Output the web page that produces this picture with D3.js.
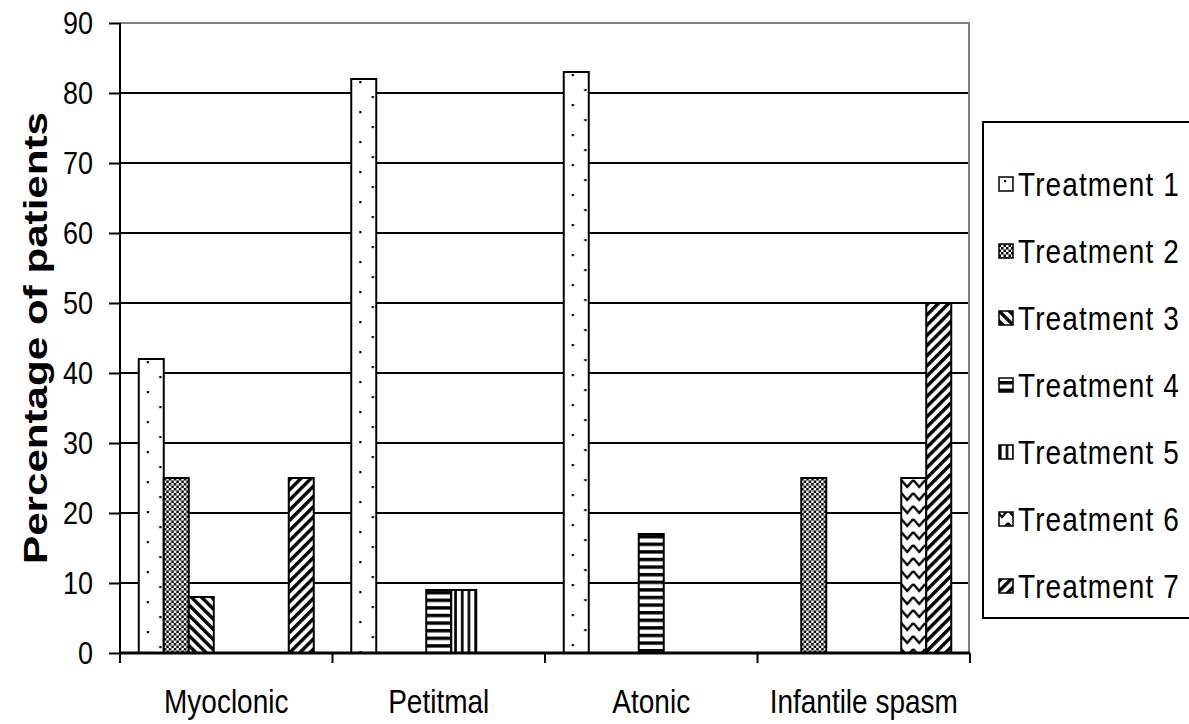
<!DOCTYPE html>
<html>
<head>
<meta charset="utf-8">
<script src="https://cdn.jsdelivr.net/npm/d3@7"></script>
<style>
  html, body { margin: 0; padding: 0; background: #fff; }
  svg { display: block; font-family: "Liberation Sans", Arial, sans-serif; }
</style>
</head>
<body>
<svg id="chart" width="1189" height="724"></svg>
<script>
// Seizure types along the x axis
const categories = ["Myoclonic", "Petitmal", "Atonic", "Infantile spasm"];
// Treatment series names
const seriesNames = ["Treatment 1", "Treatment 2", "Treatment 3", "Treatment 4",
                     "Treatment 5", "Treatment 6", "Treatment 7"];
// Percentage of patients per treatment, one value per seizure type
const treatment1 = [42, 82, 83, 0];
const treatment2 = [25, 0, 0, 25];
const treatment3 = [8, 0, 0, 0];
const treatment4 = [0, 9, 17, 0];
const treatment5 = [0, 9, 0, 0];
const treatment6 = [0, 0, 0, 25];
const treatment7 = [25, 0, 0, 50];
// Y axis tick labels
const yTicks = [0, 10, 20, 30, 40, 50, 60, 70, 80, 90];

const seriesValues = [treatment1, treatment2, treatment3, treatment4,
                      treatment5, treatment6, treatment7];

const svg = d3.select("#chart");
const defs = svg.append("defs");

const plot = { left: 120, right: 970, top: 23, bottom: 653 };
const textStretch = 1.18;

const x0 = d3.scaleBand().domain(categories).range([plot.left, plot.right]).padding(0);
const x1 = d3.scaleBand().domain(seriesNames).range([0, x0.bandwidth()])
  .paddingInner(0).paddingOuter(0.75);
const y = d3.scaleLinear().domain([0, 90]).range([plot.bottom, plot.top]);

// Fill pattern for each treatment, with the tile origin placed at (ox, oy)
function makePattern(id, si, ox, oy) {
  const p = defs.append("pattern").attr("id", id)
    .attr("patternUnits", "userSpaceOnUse").attr("x", ox).attr("y", oy);
  const bg = (w, h) => p.append("rect").attr("width", w).attr("height", h).attr("fill", "#fff");
  if (si === 0) {            // sparse dots
    p.attr("width", 25).attr("height", 30);
    bg(25, 30);
    p.append("rect").attr("x", 8).attr("y", 2).attr("width", 2.2).attr("height", 2.2).attr("fill", "#000");
    p.append("rect").attr("x", 20.5).attr("y", 17).attr("width", 2.2).attr("height", 2.2).attr("fill", "#000");
  } else if (si === 1) {     // fine checker
    p.attr("width", 5).attr("height", 5);
    bg(5, 5);
    p.append("rect").attr("width", 2.5).attr("height", 2.5).attr("fill", "#000");
    p.append("rect").attr("x", 2.5).attr("y", 2.5).attr("width", 2.5).attr("height", 2.5).attr("fill", "#000");
  } else if (si === 2 || si === 6) {   // wide diagonals
    p.attr("width", 7.2).attr("height", 10)
      .attr("patternTransform", `translate(${ox},${oy}) rotate(${si === 2 ? -45 : 45})`)
      .attr("x", 0).attr("y", 0);
    bg(7.2, 10);
    p.append("rect").attr("width", 3.4).attr("height", 10).attr("fill", "#000");
  } else if (si === 3) {     // horizontal stripes
    p.attr("width", 10).attr("height", 7.6);
    bg(10, 7.6);
    p.append("rect").attr("y", 1).attr("width", 10).attr("height", 3.4).attr("fill", "#000");
  } else if (si === 4) {     // vertical stripes
    p.attr("width", 6.7).attr("height", 10);
    bg(6.7, 10);
    p.append("rect").attr("x", 3).attr("width", 2.6).attr("height", 10).attr("fill", "#000");
  } else {                   // zigzag
    p.attr("width", 12).attr("height", 13);
    bg(12, 13);
    p.append("path").attr("d", "M0,2 L6,9 L12,2").attr("fill", "none")
      .attr("stroke", "#000").attr("stroke-width", 2.4);
  }
  return `url(#${id})`;
}

// Horizontal gridlines
svg.append("g").selectAll("line").data(yTicks.filter(t => t > 0)).join("line")
  .attr("x1", plot.left).attr("x2", plot.right)
  .attr("y1", d => y(d)).attr("y2", d => y(d))
  .attr("stroke", d => d === 90 ? "#808080" : "#000")
  .attr("stroke-width", 2);

// Right border of the plot area
svg.append("line").attr("x1", plot.right - 1).attr("x2", plot.right - 1)
  .attr("y1", plot.top).attr("y2", plot.bottom)
  .attr("stroke", "#808080").attr("stroke-width", 2);

// Bars
const barData = [];
categories.forEach((c, ci) => {
  seriesNames.forEach((s, si) => {
    const v = seriesValues[si][ci];
    if (v > 0) barData.push({ c, s, si, ci, v });
  });
});

svg.append("g").selectAll("rect").data(barData).join("rect")
  .attr("x", d => x0(d.c) + x1(d.s))
  .attr("y", d => y(d.v))
  .attr("width", x1.bandwidth())
  .attr("height", d => y(0) - y(d.v))
  .attr("fill", d => makePattern(`bar-${d.si}-${d.ci}`, d.si, x0(d.c) + x1(d.s), y(d.v)))
  .attr("stroke", "#000").attr("stroke-width", 2);

// Y axis
const yAxis = svg.append("g").attr("transform", `translate(${plot.left},0)`)
  .call(d3.axisLeft(y).tickValues(yTicks).tickSize(11).tickSizeOuter(0).tickPadding(16));
yAxis.select(".domain").remove();
yAxis.selectAll(".tick line").attr("stroke", "#000").attr("stroke-width", 2);
yAxis.selectAll(".tick text")
  .attr("font-size", 27).attr("fill", "#000")
  .attr("font-family", "'Liberation Sans', Arial, sans-serif")
  .attr("dy", "0.34em")
  .attr("transform", `scale(1,${textStretch})`);
svg.append("line").attr("x1", plot.left).attr("x2", plot.left)
  .attr("y1", plot.top).attr("y2", plot.bottom + 10)
  .attr("stroke", "#000").attr("stroke-width", 2);

// X axis baseline, category boundary ticks and labels
svg.append("line").attr("x1", plot.left).attr("x2", plot.right)
  .attr("y1", plot.bottom).attr("y2", plot.bottom)
  .attr("stroke", "#000").attr("stroke-width", 3);
const bounds = categories.map(c => x0(c)).concat([x0(categories[categories.length - 1]) + x0.bandwidth()]);
svg.append("g").selectAll("line").data(bounds).join("line")
  .attr("x1", d => d).attr("x2", d => d)
  .attr("y1", plot.bottom).attr("y2", plot.bottom + 10)
  .attr("stroke", "#000").attr("stroke-width", 2);
svg.append("g").selectAll("text").data(categories).join("text")
  .attr("transform", d => `translate(${x0(d) + x0.bandwidth() / 2},713) scale(1,${textStretch})`)
  .attr("text-anchor", "middle")
  .attr("font-size", 28).attr("fill", "#000")
  .text(d => d);

// Y axis title
svg.append("text")
  .attr("transform", `translate(47,338) rotate(-90) scale(1.24,1)`)
  .attr("text-anchor", "middle")
  .attr("font-size", 34).attr("font-weight", "bold").attr("fill", "#000")
  .text("Percentage of patients");

// Legend
const legend = svg.append("g");
legend.append("rect").attr("x", 983).attr("y", 122).attr("width", 260).attr("height", 496)
  .attr("fill", "#fff").attr("stroke", "#000").attr("stroke-width", 2);
const legendRow = d3.scalePoint().domain(seriesNames).range([184, 586]);
const items = legend.selectAll("g.item").data(seriesNames).join("g").attr("class", "item")
  .attr("transform", d => `translate(0,${legendRow(d)})`);
items.append("rect")
  .attr("x", 999).attr("y", -7).attr("width", 14).attr("height", 14)
  .attr("fill", (d, i) => makePattern(`leg-${i}`, i, 999 - 3, legendRow(d) - 10))
  .attr("stroke", "#000").attr("stroke-width", 1.5);
items.append("text")
  .attr("transform", `translate(1018,0) scale(1,${textStretch})`)
  .attr("dy", "0.36em")
  .attr("font-size", 28).attr("letter-spacing", 1.1).attr("fill", "#000")
  .text(d => d);
</script>
</body>
</html>
